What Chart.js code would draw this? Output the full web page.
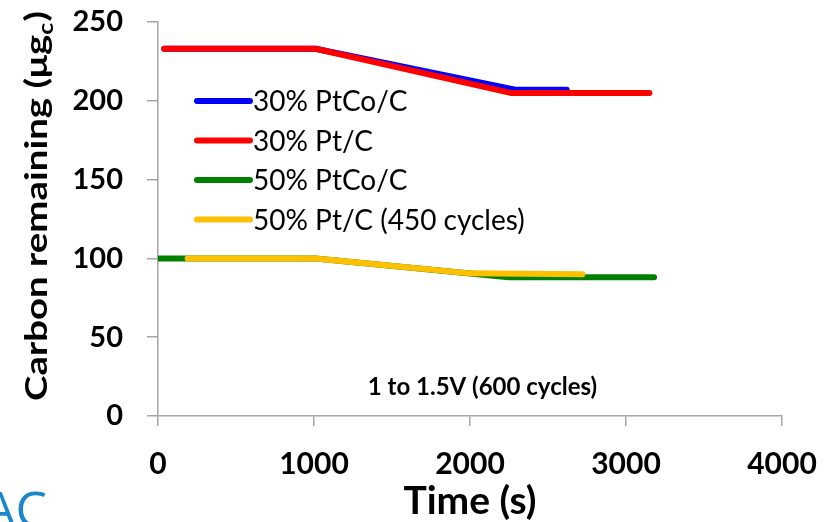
<!DOCTYPE html>
<html>
<head>
<meta charset="utf-8">
<script src="https://cdn.jsdelivr.net/npm/chart.js@4.4.0/dist/chart.umd.min.js"></script>
<style>
  html, body { margin: 0; padding: 0; background: #fff; }
  #wrap { width: 825px; height: 522px; }
</style>
</head>
<body>
<div id="wrap"><canvas id="carbonchart"></canvas></div>
<script>
// data (time in s, carbon in ug)
const labels = ['30% PtCo/C', '30% Pt/C', '50% PtCo/C', '50% Pt/C (450 cycles)'];
const colors = ['#0000ff', '#ff0000', '#008000', '#ffc000'];

const ptco30 = [{x: 40, y: 233}, {x: 1010, y: 233}, {x: 2290, y: 207}, {x: 2620, y: 207}];
const pt30 = [{x: 40, y: 233}, {x: 1010, y: 233}, {x: 2260, y: 205}, {x: 3150, y: 205}];
const ptco50 = [{x: 0, y: 100}, {x: 1010, y: 100}, {x: 2250, y: 88}, {x: 3180, y: 88}];
const pt50 = [{x: 190, y: 100}, {x: 1010, y: 100}, {x: 2000, y: 90.5}, {x: 2720, y: 90}];

const xTicks = [0, 1000, 2000, 3000, 4000];
const yTicks = [0, 50, 100, 150, 200, 250];

const series = [ptco30, pt30, ptco50, pt50];
const drawOrder = [1, 0, 1, 0]; // red over blue, yellow over green

const axisGrey = '#a6a6a6';

// legend, note and y title drawn by hand so they sit where the original has them
const extras = {
  id: 'extras',
  afterDraw(chart) {
    const c = chart.ctx;
    const xs = chart.scales.x, ys = chart.scales.y;
    c.save();

    // legend inside the plot
    c.font = '28px Lato';
    c.textBaseline = 'middle';
    c.lineCap = 'round';
    labels.forEach((lab, i) => {
      const yy = 101 + i * 39.5;
      c.strokeStyle = colors[i];
      c.lineWidth = 6;
      c.beginPath();
      c.moveTo(197, yy);
      c.lineTo(250, yy);
      c.stroke();
      c.fillStyle = '#000';
      c.textAlign = 'left';
      c.fillText(lab, 253, yy + 1);
    });

    // condition note
    c.font = 'bold 24px Lato';
    c.textAlign = 'center';
    c.fillText('1 to 1.5V (600 cycles)', xs.getPixelForValue(2080), ys.getPixelForValue(18));

    // y title with subscript c, stretched along its length like the source
    c.translate(36, 206);
    c.rotate(-Math.PI / 2);
    const big = 'bold 31px Lato', small = 'bold 20px Lato';
    const p1 = 'Carbon remaining (μg', p2 = 'c', p3 = ')';
    c.font = big;
    const w1 = c.measureText(p1).width, w3 = c.measureText(p3).width;
    c.font = small;
    const w2 = c.measureText(p2).width;
    const total = w1 + w2 + w3 + 1;
    c.scale(390 / total, 1);
    let x0 = -total / 2;
    c.textAlign = 'left';
    c.textBaseline = 'alphabetic';
    c.font = big;
    c.fillText(p1, x0, 11);
    c.font = small;
    c.fillText(p2, x0 + w1, 17);
    c.font = big;
    c.fillText(p3, x0 + w1 + w2 + 1, 11);
    c.restore();

    // bit of logo text cut off at the bottom left
    c.save();
    c.font = '50px "Open Sans"';
    c.fillStyle = '#1a86cc';
    c.textAlign = 'left';
    c.textBaseline = 'alphabetic';
    c.fillText('AC', -16, 527);
    c.restore();
  }
};

new Chart(document.getElementById('carbonchart'), {
  type: 'line',
  data: {
    datasets: series.map((d, i) => ({
      label: labels[i],
      data: d,
      borderColor: colors[i],
      backgroundColor: colors[i],
      borderWidth: 6,
      borderCapStyle: 'round',
      borderJoinStyle: 'round',
      pointRadius: 0,
      tension: 0,
      order: drawOrder[i]
    }))
  },
  options: {
    responsive: true,
    maintainAspectRatio: false,
    animation: false,
    layout: { padding: { top: 22, right: 43, left: 0, bottom: 0 } },
    plugins: {
      legend: { display: false },
      tooltip: { enabled: false }
    },
    scales: {
      x: {
        type: 'linear',
        min: 0,
        max: 4000,
        afterBuildTicks: s => { s.ticks = xTicks.map(v => ({value: v})); },
        afterFit: s => { s.height = 106; s.paddingLeft = 0; s.paddingRight = 0; },
        border: { color: axisGrey, width: 1.5 },
        grid: { drawOnChartArea: false, color: axisGrey, tickLength: 10, lineWidth: 1.5 },
        ticks: {
          color: '#000',
          padding: 20,
          callback: v => String(v),
          font: { family: 'Lato', size: 30, weight: 'bold' }
        },
        title: {
          display: true,
          text: 'Time (s)',
          color: '#000',
          padding: { top: 0, bottom: -3 },
          font: { family: 'Lato', size: 39, weight: 'bold' }
        }
      },
      y: {
        min: 0,
        max: 250,
        afterBuildTicks: s => { s.ticks = yTicks.map(v => ({value: v})); },
        afterFit: s => { s.width = 158; s.paddingTop = 0; s.paddingBottom = 0; },
        border: { color: axisGrey, width: 1.5 },
        grid: { drawOnChartArea: false, color: axisGrey, tickLength: 11, lineWidth: 1.5 },
        ticks: { color: '#000', padding: 24, font: { family: 'Lato', size: 29, weight: 'bold' } }
      }
    }
  },
  plugins: [extras]
});
</script>
</body>
</html>
